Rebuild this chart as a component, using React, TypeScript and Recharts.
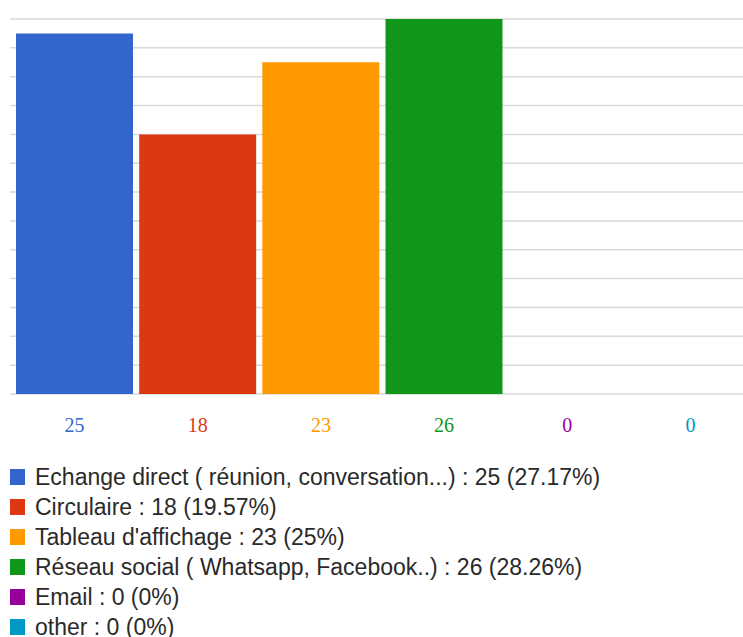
import React from 'react'
import { BarChart, Bar, Cell, XAxis, YAxis, CartesianGrid } from 'recharts'

const categories = [
  'Echange direct ( réunion, conversation...)',
  'Circulaire',
  "Tableau d'affichage",
  'Réseau social ( Whatsapp, Facebook..)',
  'Email',
  'other',
]
const counts = [25, 18, 23, 26, 0, 0]
const percents = ['27.17%', '19.57%', '25%', '28.26%', '0%', '0%']
const colors = ['#3366CC', '#DC3912', '#FF9900', '#109618', '#990099', '#0099C6']
const yTicks = [0, 2, 4, 6, 8, 10, 12, 14, 16, 18, 20, 22, 24, 26]

const data = categories.map((name, i) => ({ name, count: counts[i] }))

const CountTick = (props: any) => {
  const { x, y, payload } = props
  const i = payload.index
  return (
    <text
      x={x}
      y={y + 38}
      textAnchor="middle"
      fill={colors[i]}
      fontFamily="'Liberation Serif', 'Times New Roman', serif"
      fontSize={20}
    >
      {counts[i]}
    </text>
  )
}

export default function App() {
  return (
    <div
      style={{
        position: 'fixed',
        left: 0,
        top: 0,
        width: 743,
        height: 637,
        overflow: 'hidden',
        background: '#fff',
      }}
    >
      <BarChart
        width={762}
        height={446}
        data={data}
        margin={{ top: 19, right: 10, left: 10, bottom: 0 }}
        barCategoryGap={3}
      >
        <CartesianGrid vertical={false} stroke="#d9d9d9" strokeWidth={1.5} />
        <XAxis
          dataKey="name"
          height={52}
          axisLine={false}
          tickLine={false}
          tickSize={0}
          tickMargin={0}
          padding={{ left: 3, right: 0 }}
          interval={0}
          tick={<CountTick />}
        />
        <YAxis hide domain={[0, 26]} ticks={yTicks} />
        <Bar dataKey="count" isAnimationActive={false}>
          {data.map((d, i) => (
            <Cell key={d.name} fill={colors[i]} />
          ))}
        </Bar>
      </BarChart>

      {categories.map((name, i) => (
        <div
          key={name}
          style={{
            position: 'absolute',
            left: 10,
            top: 462 + i * 30,
            height: 30,
            display: 'flex',
            alignItems: 'center',
            whiteSpace: 'nowrap',
            fontFamily: "'Liberation Sans', Arial, sans-serif",
            fontSize: 23,
            color: '#2a2a2a',
          }}
        >
          <span
            style={{
              display: 'inline-block',
              width: 15,
              height: 16,
              background: colors[i],
              marginRight: 10,
            }}
          />
          {`${name} : ${counts[i]} (${percents[i]})`}
        </div>
      ))}
    </div>
  )
}
